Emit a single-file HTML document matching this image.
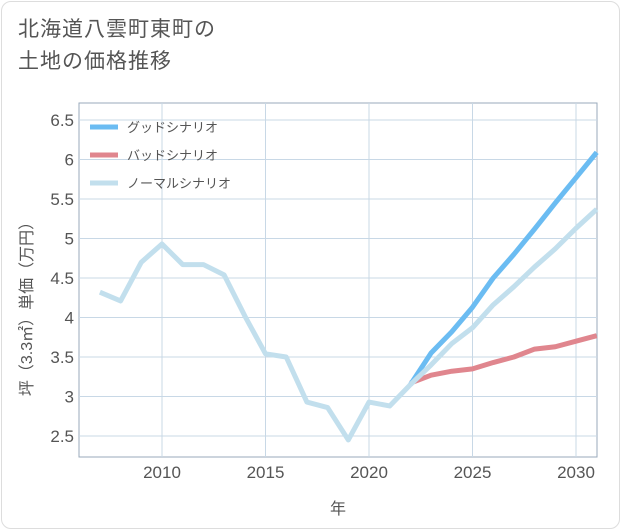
<!DOCTYPE html>
<html><head><meta charset="utf-8"><style>
body{margin:0;background:#fff;font-family:"Liberation Sans","Noto Sans CJK JP",sans-serif}
#card{position:absolute;left:1px;top:1px;width:617px;height:526px;border:1px solid #ddd;border-radius:10px;background:#fff}
#title{position:absolute;left:18px;top:14px;font-size:21px;line-height:32px;color:#555;letter-spacing:1px}
</style></head><body>
<div id="card"></div>
<div id="title">北海道八雲町東町の<br>土地の価格推移</div>
<svg id="chart" width="621" height="530" style="position:absolute;left:0;top:0"></svg>
<script>
const years=[2007,2008,2009,2010,2011,2012,2013,2014,2015,2016,2017,2018,2019,2020,2021,2022];
const normalHist=[4.32,4.21,4.70,4.93,4.67,4.67,4.54,4.02,3.54,3.50,2.93,2.86,2.45,2.93,2.88,3.15];
const futYears=[2022,2023,2024,2025,2026,2027,2028,2029,2030,2031];
const good=[3.15,3.55,3.82,4.13,4.50,4.80,5.12,5.45,5.77,6.09];
const bad=[3.17,3.27,3.32,3.35,3.43,3.50,3.60,3.63,3.70,3.77];
const normalFut=[3.15,3.40,3.67,3.87,4.16,4.39,4.64,4.87,5.13,5.37];
const yTicks=[2.5,3,3.5,4,4.5,5,5.5,6,6.5];
const xTicks=[2010,2015,2020,2025,2030];
const L=79,R=597,T=103,B=457;
const x=v=>162+(v-2010)*20.7;
const y=v=>120+(6.5-v)*79;
const svg=document.getElementById('chart');
const NS='http://www.w3.org/2000/svg';
function mk(t,a){const e=document.createElementNS(NS,t);for(const k in a)e.setAttribute(k,a[k]);svg.appendChild(e);return e;}
let r=mk('rect',{x:L,y:T,width:R-L,height:B-T,fill:'none',stroke:'#9ab',"stroke-width":1});

yTicks.forEach(v=>{
 let g=mk('line',{x1:L,x2:R,y1:y(v),y2:y(v),stroke:'#c8d8e6',"stroke-width":1});
 
 let t=mk('text',{x:L-5,y:y(v)+6,"text-anchor":'end',"font-size":17,fill:'#555'});t.textContent=v;
 
});
xTicks.forEach(v=>{
 let g=mk('line',{x1:x(v),x2:x(v),y1:T,y2:B,stroke:'#c8d8e6',"stroke-width":1});
 
 let t=mk('text',{x:x(v),y:478,"text-anchor":'middle',"font-size":17,fill:'#555'});t.textContent=v;
 
});
function line(xs,vs,c,name){let p=mk('polyline',{points:xs.map((a,i)=>x(a)+','+y(vs[i])).join(' '),fill:'none',stroke:c,"stroke-width":5,"stroke-linejoin":'round'});
 }
line(futYears,bad,'#e0868e','bad-scenario-line');
line(futYears,good,'#6bbcf2','good-scenario-line');
line(years,normalHist,'#c2dfed','normal-history-line');
line(futYears,normalFut,'#c2dfed','normal-scenario-line');
const legend=[['グッドシナリオ','#6bbcf2'],['バッドシナリオ','#e0868e'],['ノーマルシナリオ','#c2dfed']];
legend.forEach((l,i)=>{const yy=127+i*28;
 let s=mk('line',{x1:90,x2:118,y1:yy,y2:yy,stroke:l[1],"stroke-width":5});
 
 let t=mk('text',{x:127,y:yy+5,"font-size":13,fill:'#555'});t.textContent=l[0];
 
});
let xt=mk('text',{x:338,y:514,"text-anchor":'middle',"font-size":16,fill:'#555'});xt.textContent='年';

let yt=mk('text',{x:0,y:0,"text-anchor":'middle',"font-size":16,fill:'#555',transform:'translate(32,305) rotate(-90)'});yt.textContent='坪（3.3㎡）単価（万円）';

</script>
</body></html>
